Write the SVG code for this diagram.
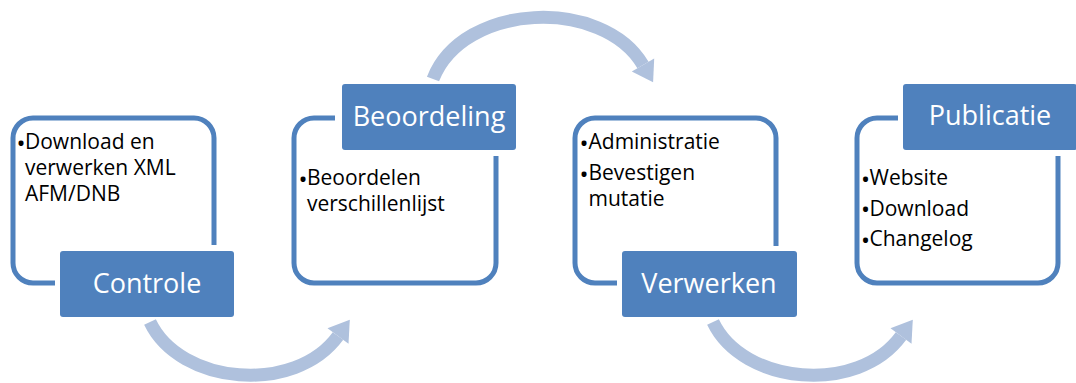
<svg xmlns="http://www.w3.org/2000/svg" width="1076" height="383" viewBox="0 0 1076 383">
<defs>
<style>
.frame{fill:none;stroke:#4F81BD;stroke-width:5;stroke-linecap:butt}
.lbl{fill:#4F81BD}
.lt{font-family:"Open Sans","Noto Sans","Liberation Sans",sans-serif;font-size:27px;fill:#FFFFFF;text-anchor:middle}
.bt{font-family:"Open Sans","Noto Sans","Liberation Sans",sans-serif;font-size:21px;fill:#000000}
.bu{font-size:24px}
.arc{fill:none;stroke:#AFC1DD;stroke-width:13;stroke-linecap:butt}
.head{fill:#AFC1DD}
</style>
</defs>
<rect width="1076" height="383" fill="#FFFFFF"/>
<g id="connectors">
<path class="arc" d="M150,322 C180,385 295,395 338,336"/>
<polygon class="head" points="349.8,319.8 348.5,343.7 327.5,328.3"/>
<path class="arc" d="M433,79 C463,2 603,-3 643,65"/>
<polygon class="head" points="653.1,82.2 654.2,58.4 631.8,71.6"/>
<path class="arc" d="M713,322 C743,385 858,395 901,336"/>
<polygon class="head" points="912.8,319.8 911.5,343.7 890.5,328.3"/>
</g>
<g id="controle">
<path class="frame" d="M214,245 V138 A20,20 0 0 0 194,118 H33 A20,20 0 0 0 13,138 V263 A20,20 0 0 0 33,283 H55"/>
<rect class="lbl" x="60" y="251" width="174" height="66" rx="3"/>
<text class="lt" x="147" y="293">Controle</text>
<text class="bt" x="16.5" y="151.5"><tspan class="bu">•</tspan><tspan x="25" y="149">Download en</tspan></text>
<text class="bt" x="25" y="175">verwerken XML</text>
<text class="bt" x="25" y="200.5">AFM/DNB</text>
</g>
<g id="beoordeling">
<path class="frame" d="M335,118 H314 A20,20 0 0 0 294,138 V263 A20,20 0 0 0 314,283 H476 A20,20 0 0 0 496,263 V156"/>
<rect class="lbl" x="342" y="84" width="174" height="66" rx="3"/>
<text class="lt" x="429" y="126">Beoordeling</text>
<text class="bt" x="298.5" y="187.5"><tspan class="bu">•</tspan><tspan x="307" y="185">Beoordelen</tspan></text>
<text class="bt" x="307" y="211">verschillenlijst</text>
</g>
<g id="verwerken">
<path class="frame" d="M776,246 V138 A20,20 0 0 0 756,118 H595 A20,20 0 0 0 575,138 V263 A20,20 0 0 0 595,283 H617"/>
<rect class="lbl" x="622" y="251" width="175" height="66" rx="3"/>
<text class="lt" x="709" y="293">Verwerken</text>
<text class="bt" x="579.5" y="151.5"><tspan class="bu">•</tspan><tspan x="588.5" y="149">Administratie</tspan></text>
<text class="bt" x="579.5" y="182.5"><tspan class="bu">•</tspan><tspan x="588.5" y="180">Bevestigen</tspan></text>
<text class="bt" x="588.5" y="206">mutatie</text>
</g>
<g id="publicatie">
<path class="frame" d="M898,118 H877 A20,20 0 0 0 857,138 V263 A20,20 0 0 0 877,283 H1038 A20,20 0 0 0 1058,263 V156"/>
<rect class="lbl" x="903" y="84" width="174" height="66" rx="3"/>
<text class="lt" x="990" y="125">Publicatie</text>
<text class="bt" x="861" y="187.5"><tspan class="bu">•</tspan><tspan x="869.5" y="185">Website</tspan></text>
<text class="bt" x="861" y="218"><tspan class="bu">•</tspan><tspan x="869.5" y="215.5">Download</tspan></text>
<text class="bt" x="861" y="248.5"><tspan class="bu">•</tspan><tspan x="869.5" y="246">Changelog</tspan></text>
</g>
</svg>
